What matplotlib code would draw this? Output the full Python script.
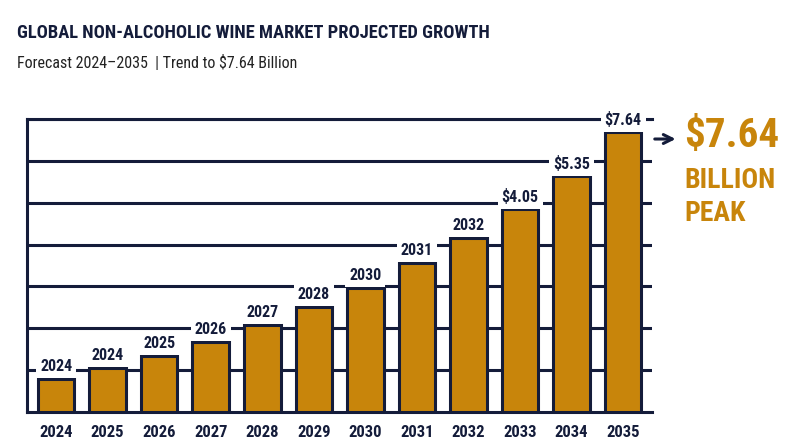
import numpy as np
import matplotlib.pyplot as plt

# Data (values in $ billion)
years = ['2024', '2025', '2026', '2027', '2028', '2029',
         '2030', '2031', '2032', '2033', '2034', '2035']
values = [0.90, 1.20, 1.53, 1.91, 2.38, 2.87,
          3.39, 4.07, 4.75, 5.54, 6.44, 7.64]
bar_labels = ['2024', '2024', '2025', '2026', '2027', '2028',
              '2030', '2031', '2032', '$4.05', '$5.35', '$7.64']

NAVY = '#141c3a'
GOLD = '#c8850b'

plt.rcParams['font.family'] = ['Roboto Condensed', 'Roboto', 'DejaVu Sans']

fig = plt.figure(figsize=(8, 4.47), dpi=100)
ax = fig.add_axes([0.034, 0.078, 0.781, 0.656])

x = np.arange(len(years))
bars = ax.bar(x, values, width=0.71, color=GOLD, edgecolor=NAVY,
              linewidth=2.2, zorder=3)

ax.set_xlim(-0.56, len(years) - 0.44)
ax.set_ylim(0, 8.0)

# horizontal grid lines
ax.set_yticks(np.arange(1, 8) * 8 / 7)
ax.yaxis.grid(True, color=NAVY, linewidth=2.2)
ax.set_axisbelow(True)
ax.tick_params(axis='y', left=False, labelleft=False)

ax.set_xticks(x)
ax.set_xticklabels(years, fontsize=12, fontweight='bold', color=NAVY)
ax.tick_params(axis='x', bottom=False, pad=6)

for side in ['left', 'top', 'bottom']:
    ax.spines[side].set_color(NAVY)
    ax.spines[side].set_linewidth(2.2)
ax.spines['right'].set_visible(False)

for xi, v, lab in zip(x, values, bar_labels):
    ax.annotate(lab, (xi, v), xytext=(0, 9), textcoords='offset points',
                ha='center', va='center', fontsize=11.5, fontweight='bold',
                color=NAVY, zorder=4,
                bbox=dict(boxstyle='square,pad=0.25', fc='white', ec='none'))

# titles
fig.text(0.021, 0.926, 'GLOBAL NON-ALCOHOLIC WINE MARKET PROJECTED GROWTH',
         fontsize=13.3, fontweight='bold', color=NAVY, ha='left', va='center')
fig.text(0.021, 0.859, 'Forecast 2024\u20132035  | Trend to $7.64 Billion',
         fontsize=11.5, color='#222222', ha='left', va='center')

# peak callout
ax.annotate('', xy=(0.848, 0.689), xytext=(0.815, 0.689),
            xycoords='figure fraction', textcoords='figure fraction',
            arrowprops=dict(arrowstyle='->', color=NAVY, lw=2.2,
                            mutation_scale=16))
fig.text(0.855, 0.695, '$7.64', fontsize=29.5, fontweight='bold', color=GOLD,
         ha='left', va='center')
fig.text(0.855, 0.596, 'BILLION', fontsize=20, fontweight='bold', color=GOLD,
         ha='left', va='center')
fig.text(0.855, 0.523, 'PEAK', fontsize=20, fontweight='bold', color=GOLD,
         ha='left', va='center')

fig.savefig('out.png', dpi=100)
